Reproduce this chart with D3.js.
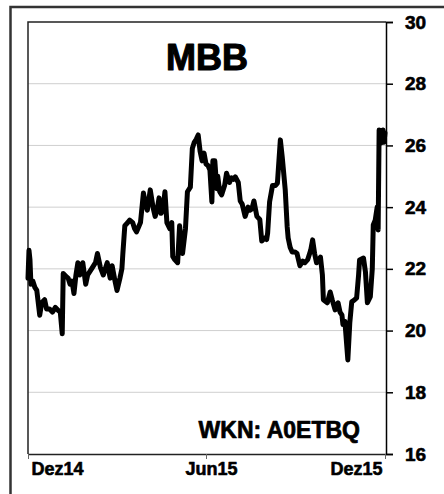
<!DOCTYPE html>
<html>
<head>
<meta charset="utf-8">
<script src="https://cdn.jsdelivr.net/npm/d3@7"></script>
<style>
  body { margin: 0; background: #fff; }
  svg { display: block; font-family: "Liberation Sans", Arial, sans-serif; }
</style>
</head>
<body>
<svg id="drawing_region"></svg>
<script>
// MBB closing prices, Dec 2014 - Dec 2015
const dates = [
  "2014-12-01","2014-12-02","2014-12-03","2014-12-04","2014-12-06","2014-12-08","2014-12-10","2014-12-13",
  "2014-12-15","2014-12-18","2014-12-20","2014-12-23","2014-12-26","2014-12-29","2015-01-01","2015-01-03",
  "2015-01-05","2015-01-06","2015-01-09","2015-01-11","2015-01-13","2015-01-15","2015-01-17","2015-01-19",
  "2015-01-21","2015-01-23","2015-01-26","2015-01-29","2015-01-31","2015-02-02","2015-02-04","2015-02-08",
  "2015-02-10","2015-02-13","2015-02-16","2015-02-18","2015-02-20","2015-02-23","2015-02-25","2015-02-28",
  "2015-03-02","2015-03-05","2015-03-07","2015-03-08","2015-03-10","2015-03-13","2015-03-15","2015-03-18",
  "2015-03-20","2015-03-22","2015-03-26","2015-03-29","2015-03-31","2015-04-02","2015-04-05","2015-04-08",
  "2015-04-10","2015-04-12","2015-04-14","2015-04-16","2015-04-18","2015-04-20","2015-04-22","2015-04-25",
  "2015-04-27","2015-04-28","2015-04-30","2015-05-03","2015-05-05","2015-05-07","2015-05-08","2015-05-11",
  "2015-05-13","2015-05-16","2015-05-18","2015-05-20","2015-05-22","2015-05-24","2015-05-26","2015-05-28",
  "2015-05-30","2015-06-01","2015-06-03","2015-06-05","2015-06-07","2015-06-08","2015-06-10","2015-06-12",
  "2015-06-13","2015-06-15","2015-06-17","2015-06-20","2015-06-22","2015-06-25","2015-06-27","2015-06-29",
  "2015-07-01","2015-07-04","2015-07-06","2015-07-08","2015-07-11","2015-07-14","2015-07-16","2015-07-18",
  "2015-07-20","2015-07-23","2015-07-26","2015-07-28","2015-07-31","2015-08-02","2015-08-03","2015-08-05",
  "2015-08-08","2015-08-11","2015-08-13","2015-08-16","2015-08-18","2015-08-21","2015-08-23","2015-08-24",
  "2015-08-26","2015-08-28","2015-08-31","2015-09-02","2015-09-05","2015-09-08","2015-09-10","2015-09-13",
  "2015-09-16","2015-09-18","2015-09-20","2015-09-22","2015-09-26","2015-09-28","2015-09-29","2015-10-01",
  "2015-10-03","2015-10-06","2015-10-08","2015-10-11","2015-10-14","2015-10-16","2015-10-18","2015-10-19",
  "2015-10-21","2015-10-24","2015-10-26","2015-10-28","2015-10-31","2015-11-02","2015-11-04","2015-11-05",
  "2015-11-09","2015-11-11","2015-11-13","2015-11-16","2015-11-18","2015-11-19","2015-11-21","2015-11-23",
  "2015-11-24","2015-11-25","2015-11-27","2015-11-29","2015-11-30","2015-12-01"
];
const prices = [
  21.7, 22.6, 22.3, 21.5, 21.6, 21.4, 21.3, 20.5,
  20.9, 21.0, 20.7, 20.7, 20.6, 20.75, 20.65, 20.6,
  19.9, 21.85, 21.75, 21.7, 21.5, 21.6, 21.2, 21.8,
  22.2, 21.8, 22.2, 21.5, 21.8, 21.9, 22.0, 22.2,
  22.5, 22.05, 21.8, 22.0, 22.2, 21.7, 22.1, 21.6,
  21.3, 21.7, 22.0, 22.5, 23.4, 23.5, 23.58, 23.5,
  23.3, 23.2, 23.5, 24.46, 24.1, 23.9, 24.56, 23.97,
  23.7, 23.9, 24.3, 23.8, 23.9, 24.5, 23.5, 23.3,
  23.5, 22.4, 22.3, 22.2, 23.4, 22.8, 22.5, 23.3,
  24.5, 24.65, 25.9, 26.1, 26.2, 26.34, 25.8, 25.5,
  25.75, 25.4, 25.35, 25.2, 24.17, 25.5, 25.5, 24.6,
  25.0, 24.5, 24.4, 24.7, 25.1, 24.8, 24.95, 24.9,
  24.98, 24.8, 24.2, 24.1, 23.7, 24.0, 23.9, 23.95,
  24.2, 23.7, 23.6, 22.9, 23.0, 22.95, 23.16, 24.17,
  24.7, 24.7, 24.78, 26.18, 25.6, 24.56, 23.36, 23.0,
  22.7, 22.55, 22.55, 22.5, 22.1, 22.25, 22.2, 22.3,
  22.6, 22.94, 22.5, 22.2, 22.38, 21.8, 21.0, 20.95,
  20.9, 21.25, 21.0, 20.67, 20.9, 20.6, 20.5, 20.2,
  20.3, 19.05, 20.25, 20.93, 21.0, 21.06, 21.8, 22.29,
  22.35, 21.9, 20.9, 21.1, 22.0, 23.42, 23.58, 24.0,
  23.26, 26.5, 26.08, 26.5, 26.1, 26.4
];
const y_ticks = [16, 18, 20, 22, 24, 26, 28, 30];
const x_tick_dates = ["2014-12-01", "2015-06-01", "2015-12-01"];
const x_tick_labels = ["Dez14", "Jun15", "Dez15"];
const title = "MBB";
const wkn_label = "WKN: A0ETBQ";

const parse = d3.timeParse("%Y-%m-%d");
const data = dates.map((d, i) => ({ date: parse(d), price: prices[i] }));

class LineChart {
    constructor (config, data) {
        this.config = config;
        this.data = data;
        this.init();
    }

    init() {
        let self = this;
        const c = self.config;

        self.svg = d3.select(c.parent)
            .attr('width', c.width)
            .attr('height', c.height);

        // outer frame (runs off the right and bottom edge)
        self.svg.append('rect')
            .attr('x', 10.5).attr('y', 7)
            .attr('width', c.width).attr('height', c.height)
            .attr('fill', 'none')
            .attr('stroke', '#333')
            .attr('stroke-width', 2.5);

        self.left = c.margin.left;
        self.right = c.width - c.margin.right;
        self.top = c.margin.top;
        self.bottom = c.height - c.margin.bottom;

        self.xscale = d3.scaleTime()
            .domain([parse(x_tick_dates[0]), parse(x_tick_dates[2])])
            .range([self.left, self.right - 1]);

        self.yscale = d3.scaleLinear()
            .domain([16, 30])
            .range([self.bottom, self.top]);
    }

    // heavier glyphs, the original uses a very black sans
    heavy(sel, w) {
        sel.attr('fill', '#000')
            .attr('stroke', '#000')
            .attr('stroke-width', w)
            .attr('stroke-linejoin', 'round')
            .style('font-weight', 'bold')
            .style('font-family', '"Liberation Sans", Arial, sans-serif');
    }

    render() {
        let self = this;

        // grid
        self.svg.append('g')
            .selectAll('line')
            .data(y_ticks.slice(1, -1))
            .join('line')
            .attr('x1', self.left).attr('x2', self.right)
            .attr('y1', d => self.yscale(d)).attr('y2', d => self.yscale(d))
            .attr('stroke', '#cfcfcf')
            .attr('stroke-width', 1);

        // plot frame (left / top)
        self.svg.append('path')
            .attr('d', `M${self.right},${self.top}H${self.left}V${self.bottom}`)
            .attr('fill', 'none')
            .attr('stroke', '#222')
            .attr('stroke-width', 1.5);

        // y axis on the right
        const yaxis = d3.axisRight(self.yscale)
            .tickValues(y_ticks)
            .tickSize(7)
            .tickPadding(12)
            .tickFormat(d3.format('d'));
        const yg = self.svg.append('g')
            .attr('transform', `translate(${self.right},0)`)
            .call(yaxis);
        yg.select('.domain').attr('stroke', '#000').attr('stroke-width', 1.5);
        yg.selectAll('.tick line').attr('stroke', '#000').attr('stroke-width', 1.5);
        yg.selectAll('.tick text')
            .style('font-size', '19px')
            .call(s => self.heavy(s, 0.6));

        // x axis
        const xaxis = d3.axisBottom(self.xscale)
            .tickValues(x_tick_dates.map(parse))
            .tickSize(5)
            .tickSizeOuter(0)
            .tickFormat((d, i) => x_tick_labels[i]);
        const xg = self.svg.append('g')
            .attr('transform', `translate(0,${self.bottom})`)
            .call(xaxis);
        xg.select('.domain')
            .attr('d', `M${self.left},0.5H${self.right}`)
            .attr('stroke', '#222').attr('stroke-width', 1.5);
        xg.selectAll('.tick line').attr('stroke', '#666').attr('stroke-width', 1);
        xg.selectAll('.tick text')
            .attr('y', 21).attr('dy', 0)
            .attr('dx', (d, i) => [3, 5, -3][i])
            .attr('text-anchor', (d, i) => ['start', 'middle', 'end'][i])
            .style('font-size', '18px')
            .call(s => self.heavy(s, 0.6));

        // price line
        const line = d3.line()
            .x(d => self.xscale(d.date))
            .y(d => self.yscale(d.price));
        self.svg.append('path')
            .datum(self.data)
            .attr('d', line)
            .attr('fill', 'none')
            .attr('stroke', '#000')
            .attr('stroke-width', 5)
            .attr('stroke-linejoin', 'round')
            .attr('stroke-linecap', 'round');

        // labels
        self.svg.append('text')
            .attr('x', 207).attr('y', 70)
            .attr('text-anchor', 'middle')
            .style('font-size', '36px')
            .call(s => self.heavy(s, 1.1))
            .text(title);

        self.svg.append('text')
            .attr('x', 360).attr('y', 438)
            .attr('text-anchor', 'end')
            .style('font-size', '23px')
            .call(s => self.heavy(s, 0.7))
            .text(wkn_label);
    }
}

const chart = new LineChart({
    parent: '#drawing_region',
    width: 444,
    height: 494,
    margin: {top: 22, right: 58, bottom: 40, left: 28}
}, data);
chart.render();
</script>
</body>
</html>
